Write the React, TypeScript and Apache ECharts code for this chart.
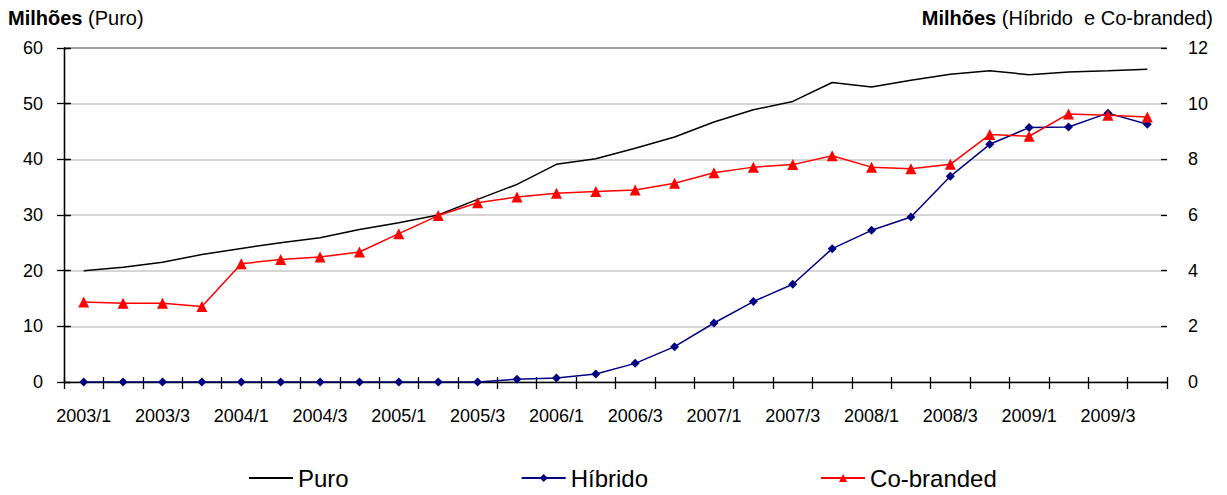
import { useEffect, useRef } from 'react'
import * as echarts from 'echarts'

const quarters = [
  '2003/1', '2003/2', '2003/3', '2003/4',
  '2004/1', '2004/2', '2004/3', '2004/4',
  '2005/1', '2005/2', '2005/3', '2005/4',
  '2006/1', '2006/2', '2006/3', '2006/4',
  '2007/1', '2007/2', '2007/3', '2007/4',
  '2008/1', '2008/2', '2008/3', '2008/4',
  '2009/1', '2009/2', '2009/3', '2009/4',
]

// left axis (Puro)
const puro = [
  20.0, 20.6, 21.5, 22.9, 24.0, 25.0, 25.9, 27.4, 28.6, 30.0, 32.8, 35.5, 39.1, 40.1,
  42.0, 44.0, 46.7, 48.9, 50.4, 53.8, 53.0, 54.2, 55.3, 55.9, 55.2, 55.7, 55.9, 56.2,
]

// right axis (Híbrido, Co-branded)
const hibrido = [
  0, 0, 0, 0, 0, 0, 0, 0, 0, 0, 0, 0.1, 0.14, 0.29,
  0.67, 1.27, 2.12, 2.89, 3.51, 4.79, 5.45, 5.93, 7.39, 8.54, 9.14, 9.16, 9.66, 9.26,
]
const coBranded = [
  2.87, 2.83, 2.83, 2.71, 4.25, 4.4, 4.49, 4.67, 5.33, 5.98, 6.44, 6.65, 6.78, 6.84,
  6.9, 7.14, 7.52, 7.72, 7.81, 8.13, 7.72, 7.66, 7.82, 8.89, 8.83, 9.63, 9.58, 9.52,
]

const leftTitle = { bold: 'Milhões', rest: ' (Puro)' }
const rightTitle = { bold: 'Milhões', rest: ' (Híbrido  e Co-branded)' }

const FONT = '"Liberation Sans", Arial, sans-serif'

export default function App() {
  const chartRef = useRef<HTMLDivElement>(null)

  useEffect(() => {
    document.body.style.margin = '0'
    if (!chartRef.current) return
    const chart = echarts.init(chartRef.current, undefined, { renderer: 'svg' })

    const tickLine = { color: '#000', width: 1.3 }
    const valueAxisBase = {
      type: 'value' as const,
      axisLine: { show: true, lineStyle: { color: '#000', width: 1.3 } },
      axisLabel: { color: '#000', fontSize: 18, fontFamily: FONT, margin: 21 },
      splitLine: { show: false },
    }
    // hidden value axis used only to draw the cross ticks at the quarter boundaries
    const boundaryTicks = (inside: boolean, length: number) => ({
      type: 'value' as const,
      position: 'bottom',
      min: 0,
      max: quarters.length,
      interval: 1,
      axisLine: { show: false },
      axisLabel: { show: false },
      splitLine: { show: false },
      axisTick: { show: true, inside, length, lineStyle: tickLine },
    })
    const titleRich = {
      b: { fontSize: 20, fontWeight: 'bold', fontFamily: FONT, fill: '#000' },
      n: { fontSize: 20, fontFamily: FONT, fill: '#000' },
    }

    chart.setOption({
      animation: false,
      textStyle: { fontFamily: FONT },
      grid: { left: 64, right: 60, top: 48, bottom: 113, containLabel: false },
      graphic: [
        {
          type: 'text',
          left: 8,
          top: 8,
          style: { text: `{b|${leftTitle.bold}}{n|${leftTitle.rest}}`, rich: titleRich },
        },
        {
          type: 'text',
          right: 14,
          top: 8,
          style: { text: `{b|${rightTitle.bold}}{n|${rightTitle.rest}}`, rich: titleRich },
        },
      ],
      legend: {
        bottom: 0,
        left: 243,
        itemWidth: 44,
        itemHeight: 10,
        itemGap: 172,
        textStyle: { fontSize: 24, color: '#000', fontFamily: FONT },
        data: [
          { name: 'Puro', itemStyle: { opacity: 0 } },
          { name: 'Híbrido' },
          { name: 'Co-branded' },
        ],
      },
      xAxis: [
        {
          type: 'category',
          data: quarters,
          boundaryGap: true,
          axisLine: { lineStyle: tickLine },
          axisTick: { show: false },
          axisLabel: { interval: 1, color: '#000', fontSize: 18, fontFamily: FONT, margin: 25 },
        },
        boundaryTicks(false, 7),
        boundaryTicks(true, 5),
      ],
      yAxis: [
        {
          ...valueAxisBase,
          position: 'left',
          min: 0,
          max: 60,
          interval: 10,
          axisTick: { show: true, length: 7, lineStyle: tickLine },
          splitLine: {
            show: true,
            lineStyle: {
              color: ['#c8c8c8', '#c8c8c8', '#c8c8c8', '#c8c8c8', '#c8c8c8', '#c8c8c8', '#808080'],
              width: 1.5,
            },
          },
        },
        {
          ...valueAxisBase,
          position: 'right',
          min: 0,
          max: 12,
          interval: 2,
          axisTick: { show: true, length: 7, lineStyle: tickLine },
        },
        {
          ...valueAxisBase,
          position: 'left',
          min: 0,
          max: 60,
          interval: 10,
          axisLine: { show: false },
          axisLabel: { show: false },
          axisTick: { show: true, inside: true, length: 6, lineStyle: tickLine },
        },
        {
          ...valueAxisBase,
          position: 'right',
          min: 0,
          max: 12,
          interval: 2,
          axisLine: { show: false },
          axisLabel: { show: false },
          axisTick: { show: true, inside: true, length: 6, lineStyle: tickLine },
        },
      ],
      series: [
        {
          name: 'Puro',
          type: 'line',
          yAxisIndex: 0,
          data: puro,
          symbol: 'none',
          lineStyle: { color: '#000', width: 1.5 },
          itemStyle: { color: '#000' },
          z: 3,
        },
        {
          name: 'Híbrido',
          type: 'line',
          yAxisIndex: 1,
          data: hibrido,
          symbol: 'diamond',
          symbolSize: 9,
          lineStyle: { color: '#000080', width: 1.5 },
          itemStyle: { color: '#000080' },
          z: 4,
        },
        {
          name: 'Co-branded',
          type: 'line',
          yAxisIndex: 1,
          data: coBranded,
          symbol: 'triangle',
          symbolSize: 11,
          lineStyle: { color: '#ff0000', width: 1.5 },
          itemStyle: { color: '#ff0000' },
          z: 5,
        },
      ],
    })

    return () => {
      chart.dispose()
    }
  }, [])

  return <div ref={chartRef} style={{ width: '1227px', height: '495px' }}></div>
}
